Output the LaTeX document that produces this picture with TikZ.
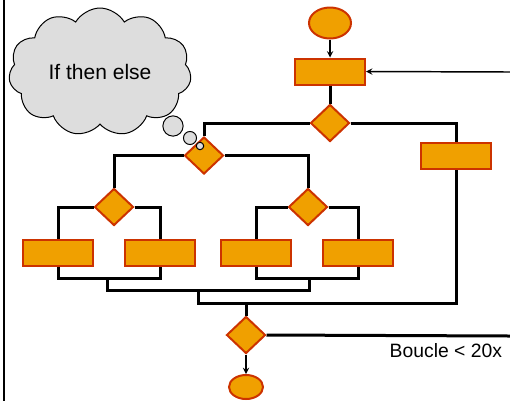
\documentclass[tikz,border=0pt]{standalone}
\usepackage{fontspec}
\setmainfont{Liberation Sans}
\usetikzlibrary{shapes.geometric, shapes.symbols}
\definecolor{boxfill}{RGB}{240,160,0}
\definecolor{boxline}{RGB}{204,51,0}
\definecolor{cloudgray}{RGB}{221,221,221}

\begin{document}
\begin{tikzpicture}[x = 0.75pt, y = -0.75pt,
    box/.style = {rectangle, draw = boxline, fill = boxfill, line width = 1.5pt, minimum width = 52.5pt, minimum height = 19.5pt, inner sep = 0pt},
    choice/.style = {diamond, draw = boxline, fill = boxfill, line width = 1.5pt, minimum width = 29.25pt, minimum height = 27.75pt, inner sep = 0pt},
    term/.style = {ellipse, draw = boxline, fill = boxfill, line width = 1.5pt, inner sep = 0pt},
    wire/.style = {line width = 2.25pt},
    flow/.style = {->, >=stealth, line width = 1.1pt},
    bubble/.style = {draw, fill = cloudgray, line width = 0.75pt}]
    \useasboundingbox (0,0) rectangle (510,401);
    % left margin rule
    \draw [line width = 1.5pt] (3.5,0) -- (3.5,401);

    \node (start) at (330,23) [term, minimum width = 31.5pt, minimum height = 23.25pt] {};
    \node (init) at (330,71.5) [box] {};
    \node (d1) at (330,123) [choice] {};
    \node (rR) at (456,155.5) [box] {};
    \node (d2) at (204,155.5) [choice] {};
    \node (d3) at (114,207) [choice] {};
    \node (d4) at (308,207) [choice] {};
    \node (r1) at (58,252.5) [box] {};
    \node (r2) at (160,252.5) [box] {};
    \node (r3) at (256,252.5) [box] {};
    \node (r4) at (358,252.5) [box] {};
    \node (d5) at (246,335) [choice] {};
    \node (end) at (246,387) [term, minimum width = 25.5pt, minimum height = 18pt] {};

    \coordinate (back) at (510,72);
    \coordinate (loop) at (510,336);
    \coordinate (jl) at (107,278);
    \coordinate (jr) at (309,278);
    \coordinate (jm) at (198,290);
    \coordinate (jb) at (246,303);

    \draw [flow] (start) -- (init);
    \draw [flow] (back) -- (init.east);
    \draw [wire] (init) -- (d1);
    \draw [wire] (d1.west) -| (d2.north);
    \draw [wire] (d1.east) -| (rR.north);
    \draw [wire] (d2.west) -| (d3.north);
    \draw [wire] (d2.east) -| (d4.north);
    \draw [wire] (d3.west) -| (r1.north);
    \draw [wire] (d3.east) -| (r2.north);
    \draw [wire] (d4.west) -| (r3.north);
    \draw [wire] (d4.east) -| (r4.north);
    % merging back
    \draw [wire] (r1.south) |- (jl) -| (r2.south);
    \draw [wire] (r3.south) |- (jr) -| (r4.south);
    \draw [wire] (jl) |- (jm) -| (jr);
    \draw [wire] (jm) |- (jb) -| (rR.south);
    \draw [wire] (jb) -- (d5.north);
    \draw [wire] (d5.east) -- (loop);
    \draw [flow] (d5) -- (end);
    \node (note) at (385,357) [anchor = base west, font = \fontsize{14.5}{17}\selectfont] {Boucle < 20x};

    % thought cloud
    \node (cloud) at (100,72) [cloud, cloud puffs = 11, cloud puff arc = 120, cloud ignores aspect, draw, fill = cloudgray, line width = 0.75pt, minimum width = 137pt, minimum height = 96pt, font = \fontsize{15.75}{18}\selectfont] {If then else};
    \draw [bubble] (173,126) circle [radius = 7.6pt];
    \draw [bubble] (190,138) circle [radius = 4.9pt];
    \draw [bubble] (200,146) circle [radius = 2.8pt];
\end{tikzpicture}
\end{document}
